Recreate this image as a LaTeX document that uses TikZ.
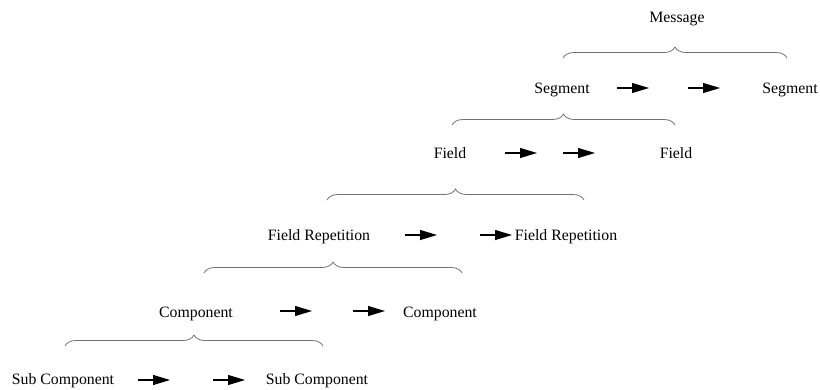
\documentclass[tikz,border=0pt]{standalone}
\usepackage{fontspec}
\setmainfont{Liberation Serif}
\usetikzlibrary{arrows.meta,decorations.pathreplacing}

\tikzset{
  lbl/.style={anchor=base, inner sep=0pt, font=\fontsize{15.8}{18}\selectfont},
  fwd/.style={line width=1.1pt, -{Triangle[length=17pt,width=10pt]}},
  grp/.style={draw=black!55, line width=0.8pt,
    decorate, decoration={brace, amplitude=11pt, aspect=0.5}}
}

\begin{document}
\begin{tikzpicture}[x=1pt,y=-1pt]
  \useasboundingbox (0,0) rectangle (820,389);

  % Message level
  \node[lbl] (msg) at (677,22) {Message};
  \coordinate (b1l) at (563,58);
  \coordinate (b1r) at (787,58);
  \draw[grp] (b1l) -- (b1r);

  % Segment level
  \node[lbl] (segA) at (562,93) {Segment};
  \node[lbl] (segB) at (790,93) {Segment};
  \coordinate (s1a) at (617,88); \coordinate (s1b) at (649,88);
  \coordinate (s2a) at (688,88); \coordinate (s2b) at (720,88);
  \draw[fwd] (s1a) -- (s1b);
  \draw[fwd] (s2a) -- (s2b);
  \coordinate (b2l) at (452,125);
  \coordinate (b2r) at (675,125);
  \draw[grp] (b2l) -- (b2r);

  % Field level
  \node[lbl] (fldA) at (450,158) {Field};
  \node[lbl] (fldB) at (676,158) {Field};
  \coordinate (f1a) at (505,153); \coordinate (f1b) at (537,153);
  \coordinate (f2a) at (563,153); \coordinate (f2b) at (595,153);
  \draw[fwd] (f1a) -- (f1b);
  \draw[fwd] (f2a) -- (f2b);
  \coordinate (b3l) at (327,200);
  \coordinate (b3r) at (584,200);
  \draw[grp] (b3l) -- (b3r);

  % Field Repetition level
  \node[lbl] (repA) at (319,240) {Field Repetition};
  \node[lbl] (repB) at (566,240) {Field Repetition};
  \coordinate (r1a) at (405,235); \coordinate (r1b) at (437,235);
  \coordinate (r2a) at (480,235); \coordinate (r2b) at (512,235);
  \draw[fwd] (r1a) -- (r1b);
  \draw[fwd] (r2a) -- (r2b);
  \coordinate (b4l) at (204,273);
  \coordinate (b4r) at (462,273);
  \draw[grp] (b4l) -- (b4r);

  % Component level
  \node[lbl] (cmpA) at (196,317) {Component};
  \node[lbl] (cmpB) at (440,317) {Component};
  \coordinate (c1a) at (280,311); \coordinate (c1b) at (312,311);
  \coordinate (c2a) at (353,311); \coordinate (c2b) at (385,311);
  \draw[fwd] (c1a) -- (c1b);
  \draw[fwd] (c2a) -- (c2b);
  \coordinate (b5l) at (65,346);
  \coordinate (b5r) at (323,346);
  \draw[grp] (b5l) -- (b5r);

  % Sub Component level
  \node[lbl] (subA) at (63,384) {Sub Component};
  \node[lbl] (subB) at (317,384) {Sub Component};
  \coordinate (u1a) at (138,380); \coordinate (u1b) at (170,380);
  \coordinate (u2a) at (213,380); \coordinate (u2b) at (245,380);
  \draw[fwd] (u1a) -- (u1b);
  \draw[fwd] (u2a) -- (u2b);
\end{tikzpicture}
\end{document}
